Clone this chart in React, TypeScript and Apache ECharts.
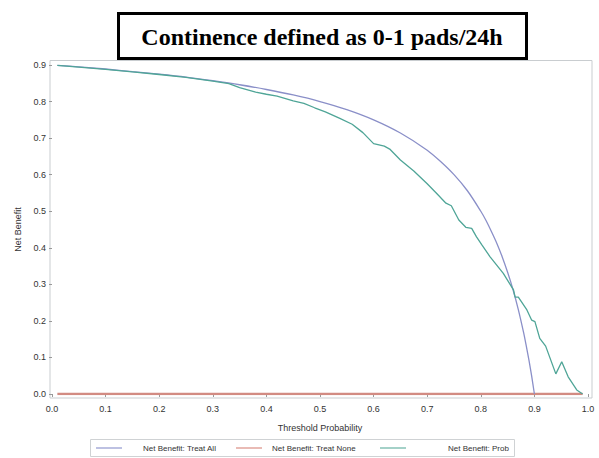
import React, { useEffect, useRef } from "react";
import * as echarts from "echarts";

const titleText = "Continence defined as 0-1 pads/24h";
const xTickLabels = ["0.0", "0.1", "0.2", "0.3", "0.4", "0.5", "0.6", "0.7", "0.8", "0.9", "1.0"];
const legendNames = ["Net Benefit: Treat All", "Net Benefit: Treat None", "Net Benefit: Prob"];

const thresholdsAll = [0.01, 0.05, 0.1, 0.15, 0.2, 0.25, 0.3, 0.35, 0.4, 0.45, 0.5, 0.55, 0.6, 0.65, 0.7, 0.725, 0.75, 0.775, 0.8, 0.81, 0.82, 0.83, 0.84, 0.85, 0.86, 0.87, 0.88, 0.885, 0.89, 0.895, 0.9];
const nbAll = [0.899, 0.895, 0.889, 0.882, 0.875, 0.867, 0.857, 0.846, 0.833, 0.818, 0.8, 0.778, 0.75, 0.714, 0.667, 0.636, 0.6, 0.556, 0.5, 0.474, 0.444, 0.412, 0.375, 0.333, 0.286, 0.231, 0.167, 0.13, 0.091, 0.048, 0.0];

const thresholdsNone = [0.01, 0.99];
const nbNone = [0, 0];

const thresholdsProb = [0.01, 0.05, 0.1, 0.15, 0.2, 0.25, 0.3, 0.33, 0.35, 0.38, 0.4, 0.42, 0.45, 0.47, 0.49, 0.51, 0.537, 0.56, 0.58, 0.6, 0.62, 0.63, 0.65, 0.675, 0.7, 0.72, 0.735, 0.745, 0.759, 0.772, 0.783, 0.792, 0.802, 0.817, 0.842, 0.861, 0.864, 0.87, 0.886, 0.895, 0.901, 0.91, 0.921, 0.94, 0.951, 0.963, 0.979, 0.99];
const nbProb = [0.899, 0.894, 0.888, 0.881, 0.874, 0.866, 0.856, 0.849, 0.838, 0.826, 0.82, 0.815, 0.802, 0.795, 0.783, 0.772, 0.754, 0.738, 0.715, 0.685, 0.678, 0.67, 0.64, 0.61, 0.575, 0.545, 0.522, 0.515, 0.476, 0.456, 0.453, 0.43, 0.408, 0.376, 0.33, 0.285, 0.265, 0.265, 0.23, 0.202, 0.198, 0.152, 0.131, 0.055, 0.088, 0.047, 0.011, 0.0];

const colors = { all: "#8a8fc8", none: "#d28b82", prob: "#4fa597" };
const legendColors = { all: "#a7acd8", none: "#e2a49c", prob: "#86c2b6" };

const pairs = (xs: number[], ys: number[]) => xs.map((x, i) => [x, ys[i]]);

export default function App() {
  const ref = useRef<HTMLDivElement>(null);
  useEffect(() => {
    if (!ref.current) return;
    const chart = echarts.init(ref.current, null, { renderer: "svg" });
    const labelFont = "Arial, 'Liberation Sans', sans-serif";
    const legendY = 448;
    const legendFont = `8px ${labelFont}`;
    chart.setOption({
      animation: false,
      backgroundColor: "#ffffff",
      grid: { left: 52, right: 11, top: 65, bottom: 64, containLabel: false },
      xAxis: {
        type: "value",
        min: 0,
        max: 1,
        interval: 0.1,
        offset: 4,
        name: "Threshold Probability",
        nameLocation: "middle",
        nameGap: 25,
        nameTextStyle: { fontSize: 9, color: "#333", fontFamily: labelFont },
        axisLine: { show: false },
        axisTick: { show: true, length: 3, lineStyle: { color: "#999" } },
        axisLabel: {
          fontSize: 9,
          color: "#333",
          fontFamily: labelFont,
          margin: 6,
          formatter: (v: number) => xTickLabels[Math.round(v * 10)] ?? "",
        },
        splitLine: { show: false },
      },
      yAxis: {
        type: "value",
        min: 0,
        max: 0.9,
        interval: 0.1,
        offset: 2,
        name: "Net Benefit",
        nameLocation: "middle",
        nameGap: 28,
        nameTextStyle: { fontSize: 9, color: "#333", fontFamily: labelFont },
        axisLine: { show: false },
        axisTick: { show: true, length: 3, lineStyle: { color: "#999" } },
        axisLabel: {
          fontSize: 9,
          color: "#333",
          fontFamily: labelFont,
          margin: 4,
          formatter: (v: number) => v.toFixed(1),
        },
        splitLine: { show: false },
      },
      graphic: [
        {
          type: "rect",
          shape: { x: 50, y: 60.5, width: 542, height: 337.5 },
          style: { fill: "none", stroke: "#c9cdd0", lineWidth: 1 },
          z: 0,
          silent: true,
        },
        {
          type: "rect",
          shape: { x: 118.5, y: 13.5, width: 408, height: 45 },
          style: { fill: "#fff", stroke: "#000", lineWidth: 3 },
          z: 10,
        },
        {
          type: "text",
          x: 322,
          y: 37,
          z: 11,
          style: {
            text: titleText,
            fill: "#000",
            font: "bold 24px 'Liberation Serif', 'Times New Roman', serif",
            align: "center",
            verticalAlign: "middle",
          },
        },
        {
          type: "rect",
          shape: { x: 90.5, y: 439.5, width: 424, height: 17 },
          style: { fill: "#fff", stroke: "#cfd2d4", lineWidth: 1 },
        },
        { type: "line", shape: { x1: 96, y1: legendY, x2: 122, y2: legendY }, style: { stroke: legendColors.all, lineWidth: 1.5 } },
        { type: "text", x: 143, y: legendY, style: { text: legendNames[0], fill: "#333", font: legendFont, verticalAlign: "middle" } },
        { type: "line", shape: { x1: 236, y1: legendY, x2: 262, y2: legendY }, style: { stroke: legendColors.none, lineWidth: 1.5 } },
        { type: "text", x: 272, y: legendY, style: { text: legendNames[1], fill: "#333", font: legendFont, verticalAlign: "middle" } },
        { type: "line", shape: { x1: 380, y1: legendY, x2: 406, y2: legendY }, style: { stroke: legendColors.prob, lineWidth: 1.5 } },
        { type: "text", x: 448, y: legendY, style: { text: legendNames[2], fill: "#333", font: legendFont, verticalAlign: "middle" } },
      ],
      series: [
        {
          name: legendNames[1],
          type: "line",
          data: pairs(thresholdsNone, nbNone),
          showSymbol: false,
          lineStyle: { color: colors.none, width: 2.5 },
          z: 2,
        },
        {
          name: legendNames[0],
          type: "line",
          data: pairs(thresholdsAll, nbAll),
          showSymbol: false,
          smooth: 0.3,
          lineStyle: { color: colors.all, width: 1.3 },
          z: 3,
        },
        {
          name: legendNames[2],
          type: "line",
          data: pairs(thresholdsProb, nbProb),
          showSymbol: false,
          lineStyle: { color: colors.prob, width: 1.3 },
          z: 4,
        },
      ],
    });
    return () => chart.dispose();
  }, []);
  return (
    <div
      ref={ref}
      style={{ position: "fixed", left: 0, top: 0, width: 599, height: 458 }}
    />
  );
}
